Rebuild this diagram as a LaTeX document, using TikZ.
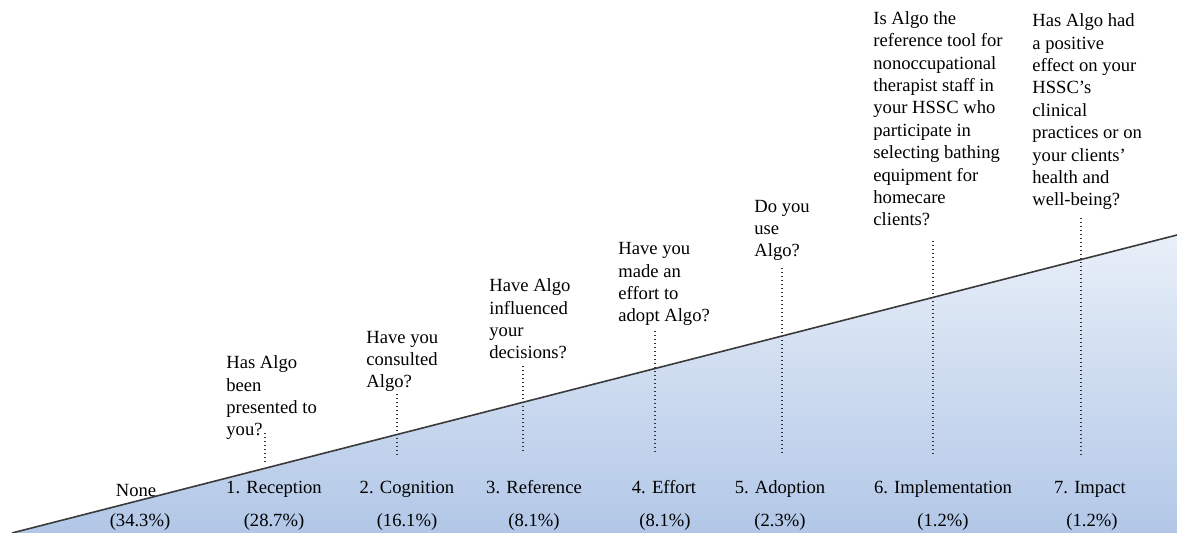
\documentclass[tikz,border=0pt]{standalone}
\usepackage{fontspec}
\setmainfont{Liberation Serif}
\definecolor{wedgetop}{HTML}{E8EFF8}
\definecolor{wedgebot}{HTML}{B2C7E7}
\definecolor{edgegray}{HTML}{3A3A3A}
\tikzset{
  qtext/.style={anchor=base west, align=left, inner sep=0pt, font=\fontsize{9.3pt}{11.2pt}\selectfont},
  lbl/.style={anchor=base, inner sep=0pt, font=\fontsize{9.3pt}{11.2pt}\selectfont},
  dotline/.style={line width=0.8pt, dash pattern=on 0.75pt off 1.25pt, black!80},
  edgeline/.style={line width=0.8pt, edgegray}
}
\begin{document}
\begin{tikzpicture}[x=0.5pt,y=-0.5pt]
\useasboundingbox (0,0) rectangle (1177,533);
% wedge
\coordinate (wl) at (12,533);
\coordinate (wr) at (1177,235);
\coordinate (wb) at (1177,533);
\shade[top color=wedgetop, bottom color=wedgebot] (wl) -- (wr) -- (wb) -- cycle;
\draw[edgeline] (wl) -- (wr);

% questions (positioned at the baseline of their last line)
\node[qtext] (q1) at (226,436) {Has Algo\\been\\presented to\\you?};
\node[qtext] (q2) at (366,388) {Have you\\consulted\\Algo?};
\node[qtext] (q3) at (489,359) {Have Algo\\influenced\\your\\decisions?};
\node[qtext] (q4) at (618,322) {Have you\\made an\\effort to\\adopt Algo?};
\node[qtext] (q5) at (754,257) {Do you\\use\\Algo?};
\node[qtext] (q6) at (873,226) {Is Algo the\\reference tool for\\nonoccupational\\therapist staff in\\your HSSC who\\participate in\\selecting bathing\\equipment for\\homecare\\clients?};
\node[qtext] (q7) at (1032,206) {Has Algo had\\a positive\\effect on your\\HSSC’s\\clinical\\practices or on\\your clients’\\health and\\well-being?};

% dotted lines
\coordinate (d1a) at (265,433); \coordinate (d1b) at (265,462);
\coordinate (d2a) at (397,394); \coordinate (d2b) at (397,455);
\coordinate (d3a) at (523,366); \coordinate (d3b) at (523,454);
\coordinate (d4a) at (655,331); \coordinate (d4b) at (655,455);
\coordinate (d5a) at (782,268); \coordinate (d5b) at (782,455);
\coordinate (d6a) at (933,241); \coordinate (d6b) at (933,455);
\coordinate (d7a) at (1081,218); \coordinate (d7b) at (1081,458);
\foreach \i in {1,...,7} {\draw[dotline] (d\i a) -- (d\i b);}

% level labels
\node[lbl] (l0) at (136,496) {None};
\node[lbl] (p0) at (140,526) {(34.3\%)};
\node[lbl] (l1) at (274,494) {1. Reception};
\node[lbl] (p1) at (274,526) {(28.7\%)};
\node[lbl] (l2) at (407,494) {2. Cognition};
\node[lbl] (p2) at (407,526) {(16.1\%)};
\node[lbl] (l3) at (534,494) {3. Reference};
\node[lbl] (p3) at (534,526) {(8.1\%)};
\node[lbl] (l4) at (664,494) {4. Effort};
\node[lbl] (p4) at (665,526) {(8.1\%)};
\node[lbl] (l5) at (780,494) {5. Adoption};
\node[lbl] (p5) at (780,526) {(2.3\%)};
\node[lbl] (l6) at (943,494) {6. Implementation};
\node[lbl] (p6) at (943,526) {(1.2\%)};
\node[lbl] (l7) at (1090,494) {7. Impact};
\node[lbl] (p7) at (1092,526) {(1.2\%)};
\end{tikzpicture}
\end{document}
